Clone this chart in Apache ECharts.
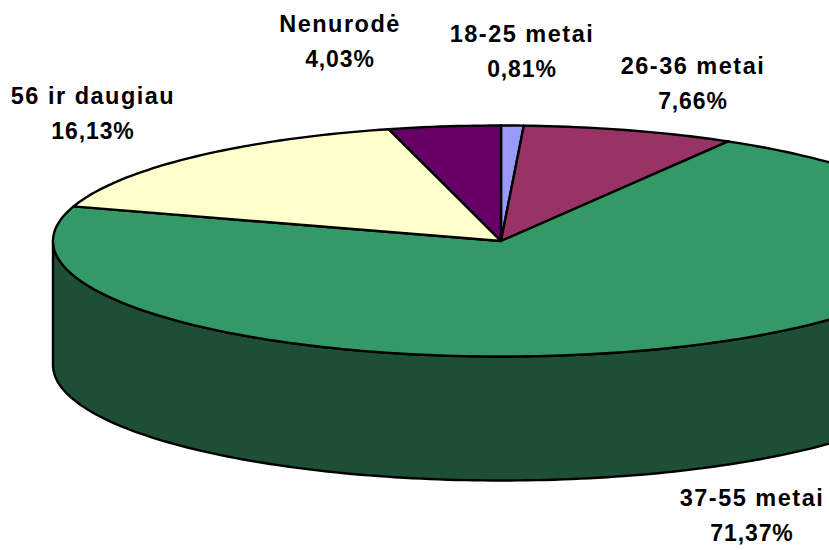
<!DOCTYPE html>
<html>
<head>
<meta charset="utf-8">
<style>
  html, body { margin: 0; padding: 0; background: #fff; }
  #chart { width: 829px; height: 550px; }
  #chart text { letter-spacing: 0.9px; }
  #chart text[style*="23.5px"] { letter-spacing: 1.5px; }
</style>
<script src="https://cdn.jsdelivr.net/npm/echarts@6/dist/echarts.min.js"></script>
</head>
<body>
<div id="chart"></div>
<script>
const categories = ["18-25 metai", "26-36 metai", "37-55 metai", "56 ir daugiau", "Nenurodė"];
const shares = [0.81, 7.66, 71.37, 16.13, 4.03];
const topColors = ["#9999FF", "#993366", "#339966", "#FFFFCC", "#660066"];
const sideColors = ["#4D4D80", "#4D1A33", "#1C4F35", "#808066", "#330033"];

// label centres, same order as categories
const labelX = [522, 693, 752, 93, 340];
const labelY = [34, 66, 498, 96, 24];

// tilted pie geometry
const cx = 501, cy = 241, rx = 448, ry = 115.5, depth = 124;
const lineGap = 35;

const total = shares.reduce((a, b) => a + b, 0);

// angle measured clockwise from 12 o'clock
function pt(a, dy) {
  return [cx + rx * Math.sin(a), cy - ry * Math.cos(a) + (dy || 0)];
}

function arc(a0, a1, dy) {
  const n = Math.max(2, Math.ceil((a1 - a0) / 0.02));
  const out = [];
  for (let i = 0; i <= n; i++) out.push(pt(a0 + (a1 - a0) * i / n, dy));
  return out;
}

function renderSlice(params, api) {
  const i = params.dataIndex;
  let before = 0;
  for (let k = 0; k < i; k++) before += shares[k];
  const a0 = before / total * Math.PI * 2;
  const a1 = (before + api.value(1)) / total * Math.PI * 2;
  const lineStyle = { stroke: "#000", lineWidth: 2.4, lineJoin: "round" };
  const children = [];

  // rim only shows on the front half
  const s0 = Math.max(a0, Math.PI / 2), s1 = Math.min(a1, Math.PI * 1.5);
  if (s1 > s0) {
    const rim = arc(s0, s1, 0).concat(arc(s0, s1, depth).reverse());
    children.push({
      type: "polygon",
      shape: { points: rim },
      style: Object.assign({ fill: sideColors[i] }, lineStyle)
    });
  }

  children.push({
    type: "polygon",
    shape: { points: [[cx, cy]].concat(arc(a0, a1, 0)) },
    style: Object.assign({ fill: topColors[i] }, lineStyle)
  });

  children.push({
    type: "text",
    style: {
      x: labelX[i], y: labelY[i], text: categories[i],
      fill: "#000", align: "center", verticalAlign: "middle",
      font: "bold 23.5px 'Liberation Sans', Arial, sans-serif"
    }
  });
  children.push({
    type: "text",
    style: {
      x: labelX[i], y: labelY[i] + lineGap,
      text: api.value(1).toFixed(2).replace(".", ",") + "%",
      fill: "#000", align: "center", verticalAlign: "middle",
      font: "bold 23px 'Liberation Sans', Arial, sans-serif"
    }
  });
  return { type: "group", children: children };
}

const chart = echarts.init(document.getElementById("chart"), null, { renderer: "svg" });
chart.setOption({
  animation: false,
  backgroundColor: "#fff",
  series: [{
    type: "custom",
    coordinateSystem: "none",
    silent: true,
    clip: false,
    renderItem: renderSlice,
    data: shares.map((v, i) => [i, v])
  }]
});
</script>
</body>
</html>
